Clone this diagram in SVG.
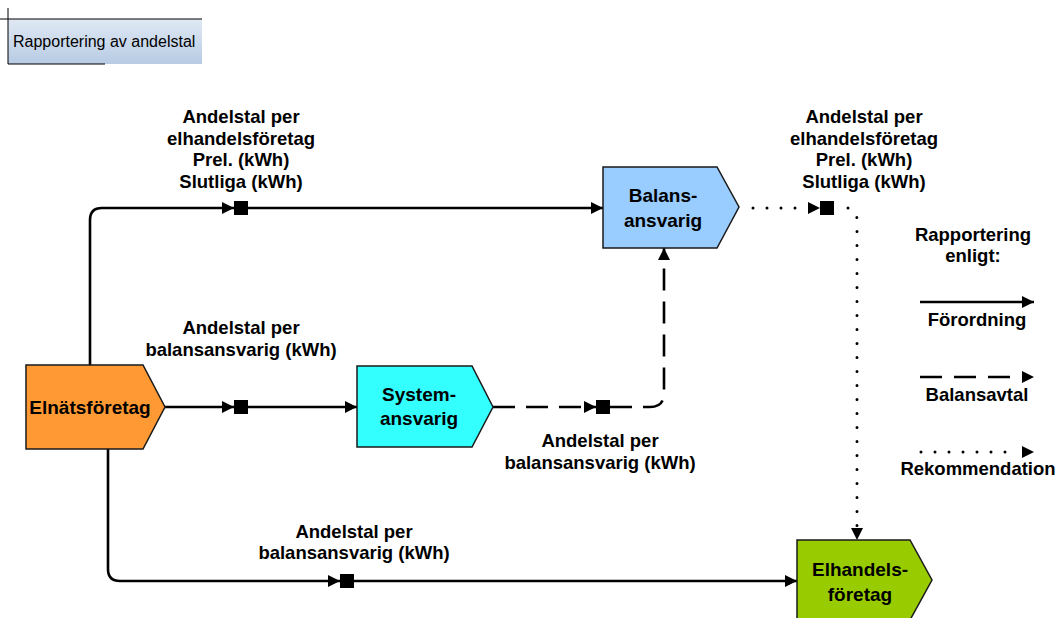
<svg xmlns="http://www.w3.org/2000/svg" width="1057" height="618" viewBox="0 0 1057 618">
<style>
text{font-family:"Liberation Sans",Arial,sans-serif;fill:#000}
.lb{font-size:18.5px;font-weight:bold;text-anchor:middle}
.nd{font-size:19px;font-weight:bold;text-anchor:middle}
.node{stroke:#1a1a1a;stroke-width:1.5}
.c{fill:none;stroke:#000;stroke-width:2.6}
.dash{stroke-dasharray:22 11}
.dot{stroke-width:3;stroke-linecap:round;stroke-dasharray:0 14}
.sq{fill:#000}
</style>
<defs>
<linearGradient id="tg" x1="0" y1="0" x2="0" y2="1">
<stop offset="0" stop-color="#e0e9f4"/>
<stop offset="1" stop-color="#b7cbe4"/>
</linearGradient>
<marker id="ah" viewBox="0 0 10 10" refX="10" refY="5" markerWidth="12" markerHeight="12" markerUnits="userSpaceOnUse" orient="auto">
<path d="M0,0 L10,5 L0,10 z" fill="#000"/>
</marker>
</defs>
<rect width="1057" height="618" fill="#fff"/>

<g id="title">
<rect x="8" y="19" width="194" height="45" fill="url(#tg)"/>
<line x1="0" y1="19" x2="202" y2="19" stroke="#000" stroke-width="1"/>
<line x1="8" y1="8" x2="8" y2="64" stroke="#000" stroke-width="1"/>
<line x1="8" y1="64" x2="105" y2="64" stroke="#000" stroke-width="1"/>
<text x="13" y="47" font-size="16">Rapportering av andelstal</text>
</g>

<g id="connectors">
<path class="c" d="M90,365 V220 Q90,208 102,208 H234" marker-end="url(#ah)"/>
<path class="c" d="M248,208 H603" marker-end="url(#ah)"/>
<path class="c" d="M165,407 H234" marker-end="url(#ah)"/>
<path class="c" d="M248,407 H357" marker-end="url(#ah)"/>
<path class="c dash" d="M493,407 H596" marker-end="url(#ah)"/>
<path class="c dash" d="M610,407 H650 Q664,407 664,393 V248" marker-end="url(#ah)"/>
<path class="c" d="M108,449 V569 Q108,581 120,581 H340" marker-end="url(#ah)"/>
<path class="c" d="M354,581 H797" marker-end="url(#ah)"/>
<path class="c dot" d="M753,208 H806"/>
<path d="M808,202 L820,208 L808,214 z" fill="#000"/>
<path class="c dot" d="M848,208 Q857,210 857,220 V528"/>
<path d="M851,528 L857,540 L863,528 z" fill="#000"/>
<rect class="sq" x="234" y="201" width="14" height="14"/>
<rect class="sq" x="234" y="400" width="14" height="14"/>
<rect class="sq" x="596" y="400" width="14" height="14"/>
<rect class="sq" x="340" y="574" width="14" height="14"/>
<rect class="sq" x="820" y="201" width="14" height="14"/>
</g>

<g id="elnat">
<path class="node" fill="#ff9933" d="M26,365 H143 L165,407 L143,449 H26 Z"/>
<text class="nd" x="90" y="414">Elnätsföretag</text>
</g>
<g id="balans">
<path class="node" fill="#99ccff" d="M603,167 H717 L739,207 L717,248 H603 Z"/>
<text class="nd" x="663" y="202">Balans-</text>
<text class="nd" x="663" y="227">ansvarig</text>
</g>
<g id="system">
<path class="node" fill="#33ffff" d="M357,366 H472 L493,407 L472,447 H357 Z"/>
<text class="nd" x="419" y="401">System-</text>
<text class="nd" x="419" y="425">ansvarig</text>
</g>
<g id="elhandel">
<path class="node" fill="#99cc00" d="M797,540 H910 L932,580 L910,620 H797 Z"/>
<text class="nd" x="860" y="576">Elhandels-</text>
<text class="nd" x="860" y="601">företag</text>
</g>

<g id="labels">
<text class="lb" x="241" y="123">Andelstal per</text>
<text class="lb" x="241" y="145">elhandelsföretag</text>
<text class="lb" x="241" y="166">Prel. (kWh)</text>
<text class="lb" x="241" y="188">Slutliga (kWh)</text>
<text class="lb" x="864" y="123">Andelstal per</text>
<text class="lb" x="864" y="145">elhandelsföretag</text>
<text class="lb" x="864" y="166">Prel. (kWh)</text>
<text class="lb" x="864" y="188">Slutliga (kWh)</text>
<text class="lb" x="241" y="334">Andelstal per</text>
<text class="lb" x="241" y="356">balansansvarig (kWh)</text>
<text class="lb" x="600" y="447">Andelstal per</text>
<text class="lb" x="600" y="469">balansansvarig (kWh)</text>
<text class="lb" x="354" y="538">Andelstal per</text>
<text class="lb" x="354" y="559">balansansvarig (kWh)</text>
</g>

<g id="legend">
<text class="lb" x="973" y="241">Rapportering</text>
<text class="lb" x="973" y="262">enligt:</text>
<path class="c" d="M920,302 H1034" marker-end="url(#ah)"/>
<text class="lb" x="977" y="326">Förordning</text>
<path class="c" d="M920,377 H1022" stroke-dasharray="22 12"/>
<path d="M1022,371 L1034,377 L1022,383 z" fill="#000"/>
<text class="lb" x="977" y="401">Balansavtal</text>
<path class="c dot" d="M921,452 H1015"/>
<path d="M1022,446 L1034,452 L1022,458 z" fill="#000"/>
<text class="lb" x="978" y="475">Rekommendation</text>
</g>
</svg>
